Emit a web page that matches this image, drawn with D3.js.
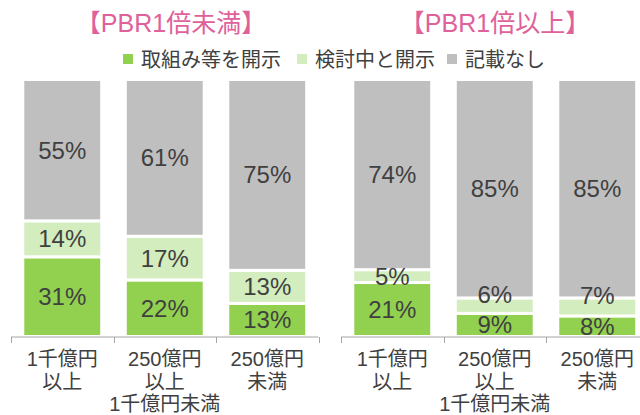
<!DOCTYPE html>
<html>
<head>
<meta charset="utf-8">
<script src="https://cdn.jsdelivr.net/npm/d3@7"></script>
<style>
  body { margin: 0; background: #fff; }
  svg { display: block; font-family: "Liberation Sans", Arial, "Noto Sans CJK JP", sans-serif; }
</style>
</head>
<body>
<div id="chart"></div>
<script>
// Categories (company size by market cap)
const categories = ['1千億円以上', '250億円以上1千億円未満', '250億円未満'];
const categoryLines = [['1千億円', '以上'], ['250億円', '以上', '1千億円未満'], ['250億円', '未満']];

// Panel titles
const panelTitles = ['【PBR1倍未満】', '【PBR1倍以上】'];

// Series
const seriesKeys = ['torikumi', 'kento', 'nashi'];
const seriesLabels = ['取組み等を開示', '検討中と開示', '記載なし'];
const seriesColors = ['#92D050', '#D3EDBE', '#BFBFBF'];

// Values (%), PBR < 1
const pbrUnder1Torikumi = [31, 22, 13];
const pbrUnder1Kento = [14, 17, 13];
const pbrUnder1Nashi = [55, 61, 75];

// Values (%), PBR >= 1
const pbrOver1Torikumi = [21, 9, 8];
const pbrOver1Kento = [5, 6, 7];
const pbrOver1Nashi = [74, 85, 85];

const width = 640, height = 415;
const textColor = '#404040';

const svg = d3.select('#chart').append('svg')
  .attr('width', width)
  .attr('height', height);

function buildRows(a, b, c) {
  return categories.map((cat, i) => ({ cat, torikumi: a[i], kento: b[i], nashi: c[i] }));
}

const panels = [
  { title: panelTitles[0], rows: buildRows(pbrUnder1Torikumi, pbrUnder1Kento, pbrUnder1Nashi), range: [11, 318.5], titleX: 171 },
  { title: panelTitles[1], rows: buildRows(pbrOver1Torikumi, pbrOver1Kento, pbrOver1Nashi), range: [341, 648.5], titleX: 495 }
];

const yScale = d3.scaleLinear().domain([0, 1]).range([336.5, 79.5]);

const stack = d3.stack()
  .keys(seriesKeys)
  .offset(d3.stackOffsetExpand);

panels.forEach((p, pi) => {
  const x = d3.scaleBand()
    .domain(categories)
    .range(p.range)
    .paddingInner(0.23)
    .paddingOuter(0.115);

  // title
  svg.append('text')
    .attr('x', p.titleX)
    .attr('y', 32)
    .attr('text-anchor', 'middle')
    .attr('fill', '#E0609A')
    .attr('font-size', '25px')
    .text(p.title);

  const stacked = stack(p.rows);
  const barsGroup = svg.append('g');
  const labelsGroup = svg.append('g');

  stacked.forEach((layer, li) => {
    barsGroup.append('g')
      .attr('fill', seriesColors[li])
      .selectAll('rect')
      .data(layer)
      .join('rect')
      .attr('x', d => x(d.data.cat))
      .attr('width', x.bandwidth())
      .attr('y', d => yScale(d[1]))
      .attr('height', d => yScale(d[0]) - yScale(d[1]))
      .attr('stroke', '#fff')
      .attr('stroke-width', 3);

    labelsGroup.append('g')
      .selectAll('text')
      .data(layer)
      .join('text')
      .attr('x', d => x(d.data.cat) + x.bandwidth() / 2)
      .attr('y', (d, i) => {
        let cy = (yScale(d[0]) + yScale(d[1])) / 2;
        // thin light segments in the right panel: labels sit above the band
        if (pi === 1 && li === 1 && i > 0) cy -= 11;
        return cy;
      })
      .attr('dy', '0.35em')
      .attr('text-anchor', 'middle')
      .attr('fill', textColor)
      .attr('font-size', '24px')
      .text(d => d.data[layer.key] + '%');
  });

  // category axis
  const axisY = 337;
  const ax = svg.append('g');
  ax.append('line')
    .attr('x1', p.range[0]).attr('x2', p.range[1])
    .attr('y1', axisY).attr('y2', axisY)
    .attr('stroke', '#A6A6A6').attr('stroke-width', 1);
  const tickXs = d3.range(categories.length + 1).map(i => p.range[0] + i * x.step());
  ax.selectAll('.tick')
    .data(tickXs)
    .join('line')
    .attr('x1', d => Math.round(d) + 0.5).attr('x2', d => Math.round(d) + 0.5)
    .attr('y1', axisY).attr('y2', axisY + 6)
    .attr('stroke', '#A6A6A6');

  categories.forEach((cat, i) => {
    const cx = x(cat) + x.bandwidth() / 2;
    const t = ax.append('text')
      .attr('text-anchor', 'middle')
      .attr('fill', textColor)
      .attr('font-size', '20px');
    categoryLines[i].forEach((line, k) => {
      t.append('tspan')
        .attr('x', cx)
        .attr('y', 366 + k * 22.5)
        .text(line);
    });
  });
});

// legend
const legendX = [123, 297, 447];
const legend = svg.append('g');
seriesLabels.forEach((label, i) => {
  const it = legend.append('g').attr('transform', `translate(${legendX[i]},54)`);
  it.append('rect')
    .attr('width', 10).attr('height', 10)
    .attr('fill', seriesColors[i]);
  it.append('text')
    .attr('x', 18)
    .attr('y', 5)
    .attr('dy', '0.38em')
    .attr('fill', textColor)
    .attr('font-size', '20px')
    .text(label);
});
</script>
</body>
</html>
